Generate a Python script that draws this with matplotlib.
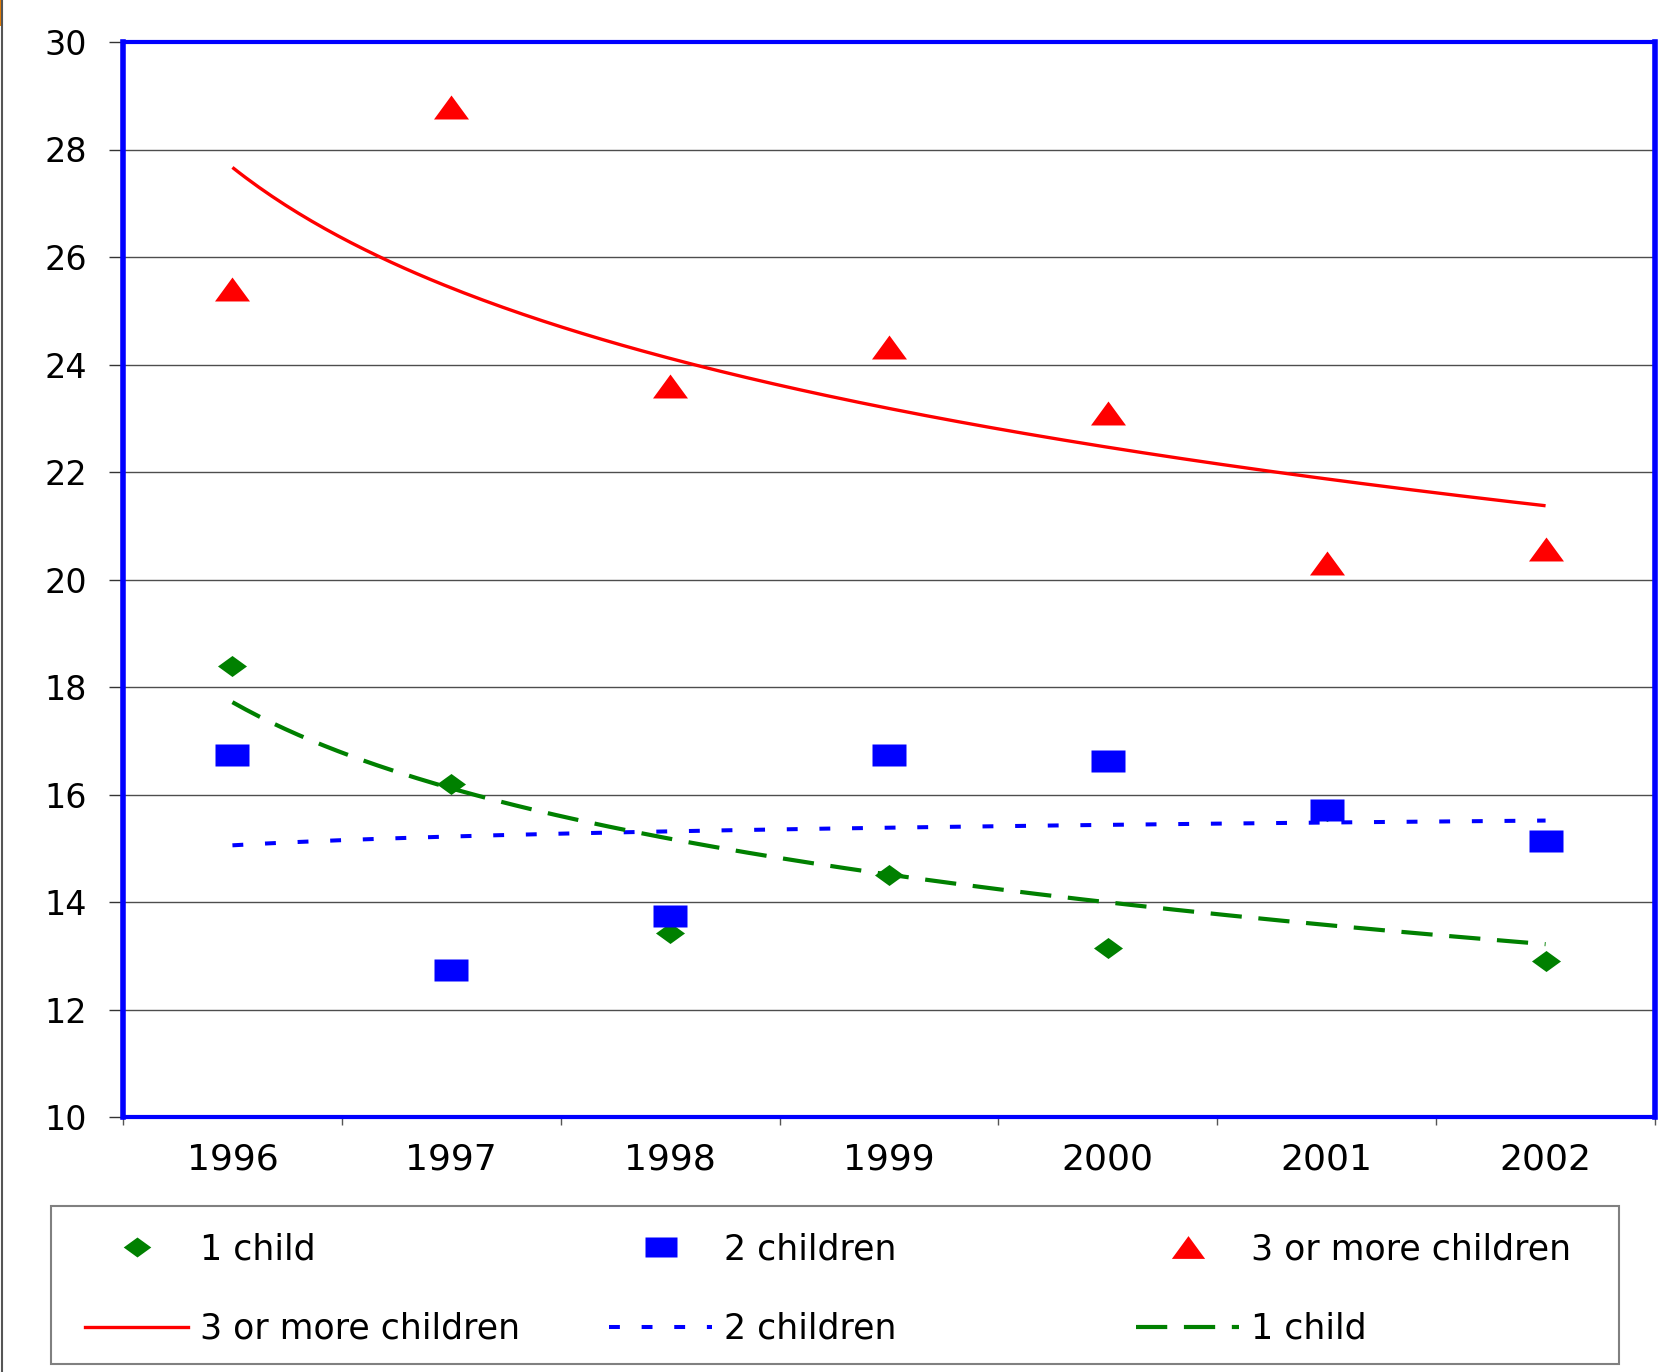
import numpy as np
import matplotlib
matplotlib.use("Agg")
import matplotlib.pyplot as plt
from matplotlib.path import Path
from matplotlib.lines import Line2D
from matplotlib.patches import Rectangle

plt.rcParams["font.family"] = ["DejaVu Sans"]

# ---- data ----
years = ["1996", "1997", "1998", "1999", "2000", "2001", "2002"]
one_child = [18.40, 16.20, 13.43, 14.51, 13.15, 15.70, 12.91]
two_children = [16.73, 12.73, 13.74, 16.73, 16.63, 15.71, 15.13]
three_plus = [25.41, 28.79, 23.60, 24.32, 23.10, 20.30, 20.57]

y_ticks = [10, 12, 14, 16, 18, 20, 22, 24, 26, 28, 30]

W, H = 1669, 1372
fig = plt.figure(figsize=(W / 100, H / 100), dpi=100)
ax = fig.add_axes([123 / W, 1 - 1117 / H, (1655 - 123) / W, (1117 - 42) / H])

x = np.arange(1, len(years) + 1)

# wide marker shapes
diamond = Path([(0, 1), (1.38, 0), (0, -1), (-1.38, 0), (0, 1)],
               [Path.MOVETO, Path.LINETO, Path.LINETO, Path.LINETO, Path.CLOSEPOLY])
rect = Path([(-1.5, -1), (1.5, -1), (1.5, 1), (-1.5, 1), (-1.5, -1)],
            [Path.MOVETO, Path.LINETO, Path.LINETO, Path.LINETO, Path.CLOSEPOLY])
tri = Path([(0, 1), (1.46, -1), (-1.46, -1), (0, 1)],
           [Path.MOVETO, Path.LINETO, Path.LINETO, Path.CLOSEPOLY])

GREEN, BLUE, RED = "#008000", "#0000FF", "#FF0000"

# logarithmic trend lines fitted to each series
xs = np.linspace(1, len(years), 200)


def log_trend(vals):
    b, a = np.polyfit(np.log(x), vals, 1)
    return a + b * np.log(xs)


ax.plot(xs, log_trend(three_plus), color=RED, lw=2.4, solid_capstyle="butt", zorder=3)
ax.plot(xs, log_trend(two_children), color=BLUE, lw=2.9, dashes=(2.7, 5.4), zorder=3)
ax.plot(xs, log_trend(one_child), color=GREEN, lw=3.0, dashes=(7.5, 4.0), zorder=3)

ax.plot(x, one_child, ls="none", marker=diamond, ms=20.9, mfc=GREEN, mec="none", zorder=4)
ax.plot(x, two_children, ls="none", marker=rect, ms=23.8, mfc=BLUE, mec="none", zorder=5)
ax.plot(x, three_plus, ls="none", marker=tri, ms=25.2, mfc=RED, mec="none", zorder=6)

# axes
ax.set_xlim(0.5, len(years) + 0.5)
ax.set_ylim(10, 30)
ax.set_yticks(y_ticks)
ax.set_yticklabels([str(v) for v in y_ticks])
ax.tick_params(axis="y", direction="out", length=10, width=1, color="#333333",
               pad=16, labelsize=24, labelcolor="black")
ax.set_xticks(np.arange(0.5, len(years) + 1, 1))
ax.set_xticklabels([])
ax.set_xticks(x, minor=True)
ax.set_xticklabels(years, minor=True)
ax.tick_params(axis="x", which="major", direction="out", length=6, width=1, color="#555555")
ax.tick_params(axis="x", which="minor", length=0, pad=18, labelsize=26, labelcolor="black")

for yv in y_ticks[1:-1]:
    ax.axhline(yv, color="#4d4d4d", lw=1.0, zorder=1)

for side in ["left", "right"]:
    ax.spines[side].set_color(BLUE)
    ax.spines[side].set_linewidth(4.0)
for side in ["top", "bottom"]:
    ax.spines[side].set_color(BLUE)
    ax.spines[side].set_linewidth(3.0)

# legend: box plus three columns
fig.add_artist(Rectangle((51 / W, 1 - 1364 / H), (1619 - 51) / W, (1364 - 1206) / H,
                         transform=fig.transFigure, fill=False, ec="#808080", lw=1.5))

leg_kw = dict(loc="upper left", frameon=False, fontsize=25, borderpad=0,
              handlelength=2.97, handletextpad=0.35, labelspacing=1.32,
              markerscale=0.95, borderaxespad=0)

cols = [
    (85, [Line2D([], [], ls="none", marker=diamond, ms=20.9, mfc=GREEN, mec="none"),
          Line2D([], [], color=RED, lw=2.4)],
     ["1 child", "3 or more children"]),
    (609, [Line2D([], [], ls="none", marker=rect, ms=23.8, mfc=BLUE, mec="none"),
           Line2D([], [], color=BLUE, lw=2.9, dashes=(2.7, 5.4))],
     ["2 children", "2 children"]),
    (1136, [Line2D([], [], ls="none", marker=tri, ms=25.2, mfc=RED, mec="none"),
            Line2D([], [], color=GREEN, lw=3.0, dashes=(7.5, 4.0))],
     ["3 or more children", "1 child"]),
]
for xpix, handles, labels in cols:
    leg = fig.legend(handles, labels, bbox_to_anchor=(xpix / W, 1 - 1232 / H),
                     bbox_transform=fig.transFigure, **leg_kw)

# left edge line
fig.add_artist(Line2D([2 / W, 2 / W], [0, 1], transform=fig.transFigure,
                      color="#555555", lw=1.5))
fig.add_artist(Rectangle((0, 1 - 26 / H), 3 / W, 26 / H, transform=fig.transFigure,
                         color="#E87E04", lw=0))

fig.savefig("out.png", dpi=100, facecolor="white")
